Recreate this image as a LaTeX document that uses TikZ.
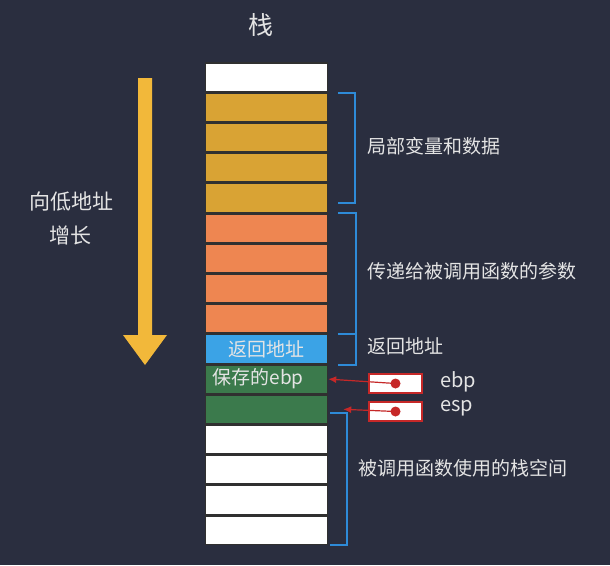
\documentclass[tikz,border=0pt]{standalone}
\usepackage{fontspec}
\setmainfont{Noto Sans CJK SC}
\usetikzlibrary{arrows.meta,calc,positioning}

\definecolor{bgdark}{HTML}{2A2E3F}
\definecolor{cellline}{HTML}{303030}
\definecolor{gold}{HTML}{D9A334}
\definecolor{coral}{HTML}{EE8651}
\definecolor{retblue}{HTML}{3BA3E6}
\definecolor{frmgreen}{HTML}{3B7A4C}
\definecolor{brkblue}{HTML}{2E8BD8}
\definecolor{regred}{HTML}{C62828}
\definecolor{arrowyellow}{HTML}{F2B83A}
\definecolor{txtgray}{HTML}{E4E4E4}

\begin{document}
\begin{tikzpicture}[x=1pt,y=-1pt,
  cell/.style={draw=cellline,line width=1.5pt,minimum width=122pt,minimum height=28.7pt,inner sep=0pt},
  brace/.style={draw=brkblue,line width=1.8pt},
  lbl/.style={text=txtgray,font=\fontsize{19}{22}\selectfont,anchor=west,inner sep=0pt},
  regbox/.style={draw=regred,fill=white,line width=2pt,minimum width=53pt,minimum height=19pt},
  ptr/.style={draw=regred,line width=1.2pt,-{Latex[length=8pt,width=7pt]}}]

  \fill[bgdark] (0,0) rectangle (610,565);
  \useasboundingbox (0,0) rectangle (610,565);

  \node[text=txtgray,font=\fontsize{25}{28}\selectfont] (title) at (261,25) {栈};

  % the stack, top to bottom
  \node[cell,fill=white,anchor=north] (w0) at (266.5,62) {};
  \node[cell,fill=gold,below=0pt of w0] (var1) {};
  \node[cell,fill=gold,below=0pt of var1] (var2) {};
  \node[cell,fill=gold,below=0pt of var2] (var3) {};
  \node[cell,fill=gold,below=0pt of var3] (var4) {};
  \node[cell,fill=coral,below=0pt of var4] (arg1) {};
  \node[cell,fill=coral,below=0pt of arg1] (arg2) {};
  \node[cell,fill=coral,below=0pt of arg2] (arg3) {};
  \node[cell,fill=coral,below=0pt of arg3] (arg4) {};
  \node[cell,fill=retblue,below=0pt of arg4,text=txtgray,font=\fontsize{19}{22}\selectfont] (ret) {返回地址};
  \node[cell,fill=frmgreen,below=0pt of ret,text=txtgray,font=\fontsize{19}{22}\selectfont,
        text width=108pt,align=left] (oldebp) {保存的ebp};
  \node[cell,fill=frmgreen,below=0pt of oldebp] (cur) {};
  \node[cell,fill=white,below=0pt of cur] (sp1) {};
  \node[cell,fill=white,below=0pt of sp1] (sp2) {};
  \node[cell,fill=white,below=0pt of sp2] (sp3) {};
  \node[cell,fill=white,below=0pt of sp3] (sp4) {};

  % growth arrow
  \fill[arrowyellow] (138,78) -- (152,78) -- (152,335) -- (167,335) -- (145,365)
    -- (123,335) -- (138,335) -- cycle;
  \node[text=txtgray,font=\fontsize{21}{24}\selectfont] (grow1) at (71,202) {向低地址};
  \node[text=txtgray,font=\fontsize{21}{24}\selectfont] (grow2) at (70,235) {增长};

  % brackets
  \draw[brace] ($(var1.north east)+(9.5,1)$) -| ($(var4.south east)+(26.5,-10)$) -- ++(-17,0);
  \draw[brace] ($(arg1.north east)+(9.5,0)$) -| ($(ret.south east)+(27.5,1)$) -- ++(-18,0);
  \draw[brace] ($(arg4.south east)+(9.5,0)$) -- ++(18,0);
  \draw[brace] ($(cur.east)+(2,4)$) -| ($(sp4.south east)+(18.5,0)$) -- ++(-16.5,0);

  \node[lbl] (loclbl) at (367,146) {局部变量和数据};
  \node[lbl] (arglbl) at (367,271) {传递给被调用函数的参数};
  \node[lbl] (retlbl) at (367,346) {返回地址};
  \node[lbl] (framelbl) at (358,468) {被调用函数使用的栈空间};

  % registers
  \node[regbox] (ebpbox) at (395.5,383.5) {};
  \node[regbox] (espbox) at (395.5,411.5) {};
  \coordinate (esptip) at ($(cur.east)+(15,0)$);
  \draw[ptr] (ebpbox.center) -- (oldebp.east);
  \draw[ptr] (espbox.center) -- (esptip);
  \node[circle,fill=regred,inner sep=0pt,minimum size=10pt] (ebpdot) at (ebpbox.center) {};
  \node[circle,fill=regred,inner sep=0pt,minimum size=10pt] (espdot) at (espbox.center) {};
  \node[lbl,font=\fontsize{20}{23}\selectfont] (ebplbl) at (440,382) {ebp};
  \node[lbl,font=\fontsize{20}{23}\selectfont] (esplbl) at (440,408) {esp};

\end{tikzpicture}
\end{document}
